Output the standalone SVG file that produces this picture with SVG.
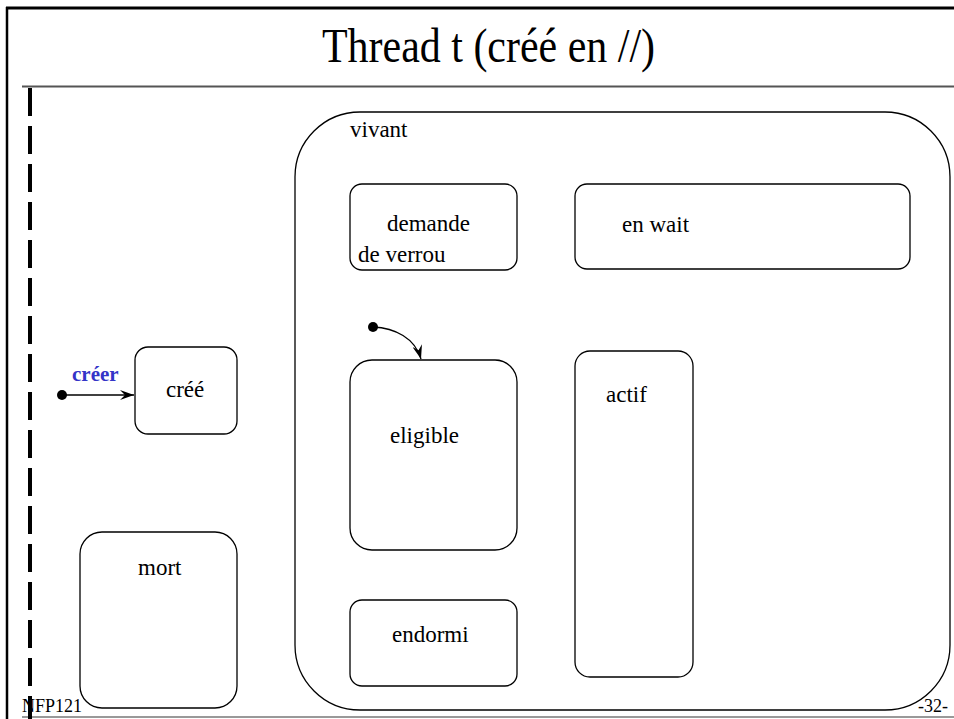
<svg xmlns="http://www.w3.org/2000/svg" width="954" height="719" viewBox="0 0 954 719">
<defs>
<style>
.box{fill:none;stroke:#000;stroke-width:1.3}
text{font-family:'Liberation Serif','Times New Roman',serif}
.t{font-size:23px;fill:#000}
.lbl{font-size:21px;font-weight:bold;fill:#3434c8}
.ft{font-size:18px;fill:#000}
</style>
<marker id="ah" viewBox="0 0 14 10" refX="14" refY="5" markerWidth="14" markerHeight="10" markerUnits="userSpaceOnUse" orient="auto">
<path d="M0,0 L14,5 L0,10 L5,5 z" fill="#000"/>
</marker>
</defs>
<rect width="954" height="719" fill="#fff"/>
<g id="frame">
<line x1="6" y1="8" x2="954" y2="8" stroke="#000" stroke-width="3"/>
<line x1="7" y1="7" x2="7" y2="719" stroke="#000" stroke-width="2.5"/>
<line x1="22" y1="86.5" x2="954" y2="86.5" stroke="#555" stroke-width="2"/>
<line x1="22" y1="717" x2="954" y2="717" stroke="#999" stroke-width="2"/>
<line x1="30" y1="88" x2="30" y2="719" stroke="#000" stroke-width="4" stroke-dasharray="28 10"/>
</g>
<text id="title" x="322" y="62" font-size="48" fill="#000" textLength="333" lengthAdjust="spacingAndGlyphs">Thread t (créé en //)</text>
<g id="vivant">
<rect class="box" x="295" y="112" width="655" height="598" rx="65" ry="65"/>
<text class="t" x="350" y="137">vivant</text>
</g>
<g id="demande">
<rect class="box" x="350" y="184" width="167" height="86" rx="12"/>
<text class="t" x="387" y="231">demande</text>
<text class="t" x="358" y="262">de verrou</text>
</g>
<g id="enwait">
<rect class="box" x="575" y="184" width="335" height="85" rx="12"/>
<text class="t" x="622" y="232">en wait</text>
</g>
<g id="eligible">
<rect class="box" x="350" y="360" width="167" height="190" rx="22"/>
<text class="t" x="390" y="443">eligible</text>
</g>
<g id="actif">
<rect class="box" x="575" y="351" width="118" height="326" rx="15"/>
<text class="t" x="606" y="402">actif</text>
</g>
<g id="endormi">
<rect class="box" x="350" y="600" width="167" height="86" rx="12"/>
<text class="t" x="392" y="642">endormi</text>
</g>
<g id="cree">
<rect class="box" x="135" y="347" width="102" height="87" rx="13"/>
<text class="t" x="166" y="397">créé</text>
</g>
<g id="mort">
<rect class="box" x="80" y="532" width="157" height="176" rx="22"/>
<text class="t" x="138" y="575">mort</text>
</g>
<g id="connectors">
<circle cx="62" cy="395" r="5" fill="#000"/>
<line x1="62" y1="395" x2="134" y2="395" stroke="#000" stroke-width="1.3" marker-end="url(#ah)"/>
<text class="lbl" x="72" y="381">créer</text>
<circle cx="373" cy="327" r="5" fill="#000"/>
<path d="M373,327 C395,328 415,338 421,359" fill="none" stroke="#000" stroke-width="1.3" marker-end="url(#ah)"/>
</g>
<g id="footer">
<text class="ft" x="22" y="712">NFP121</text>
<text class="ft" x="948" y="712" text-anchor="end">-32-</text>
</g>
</svg>
